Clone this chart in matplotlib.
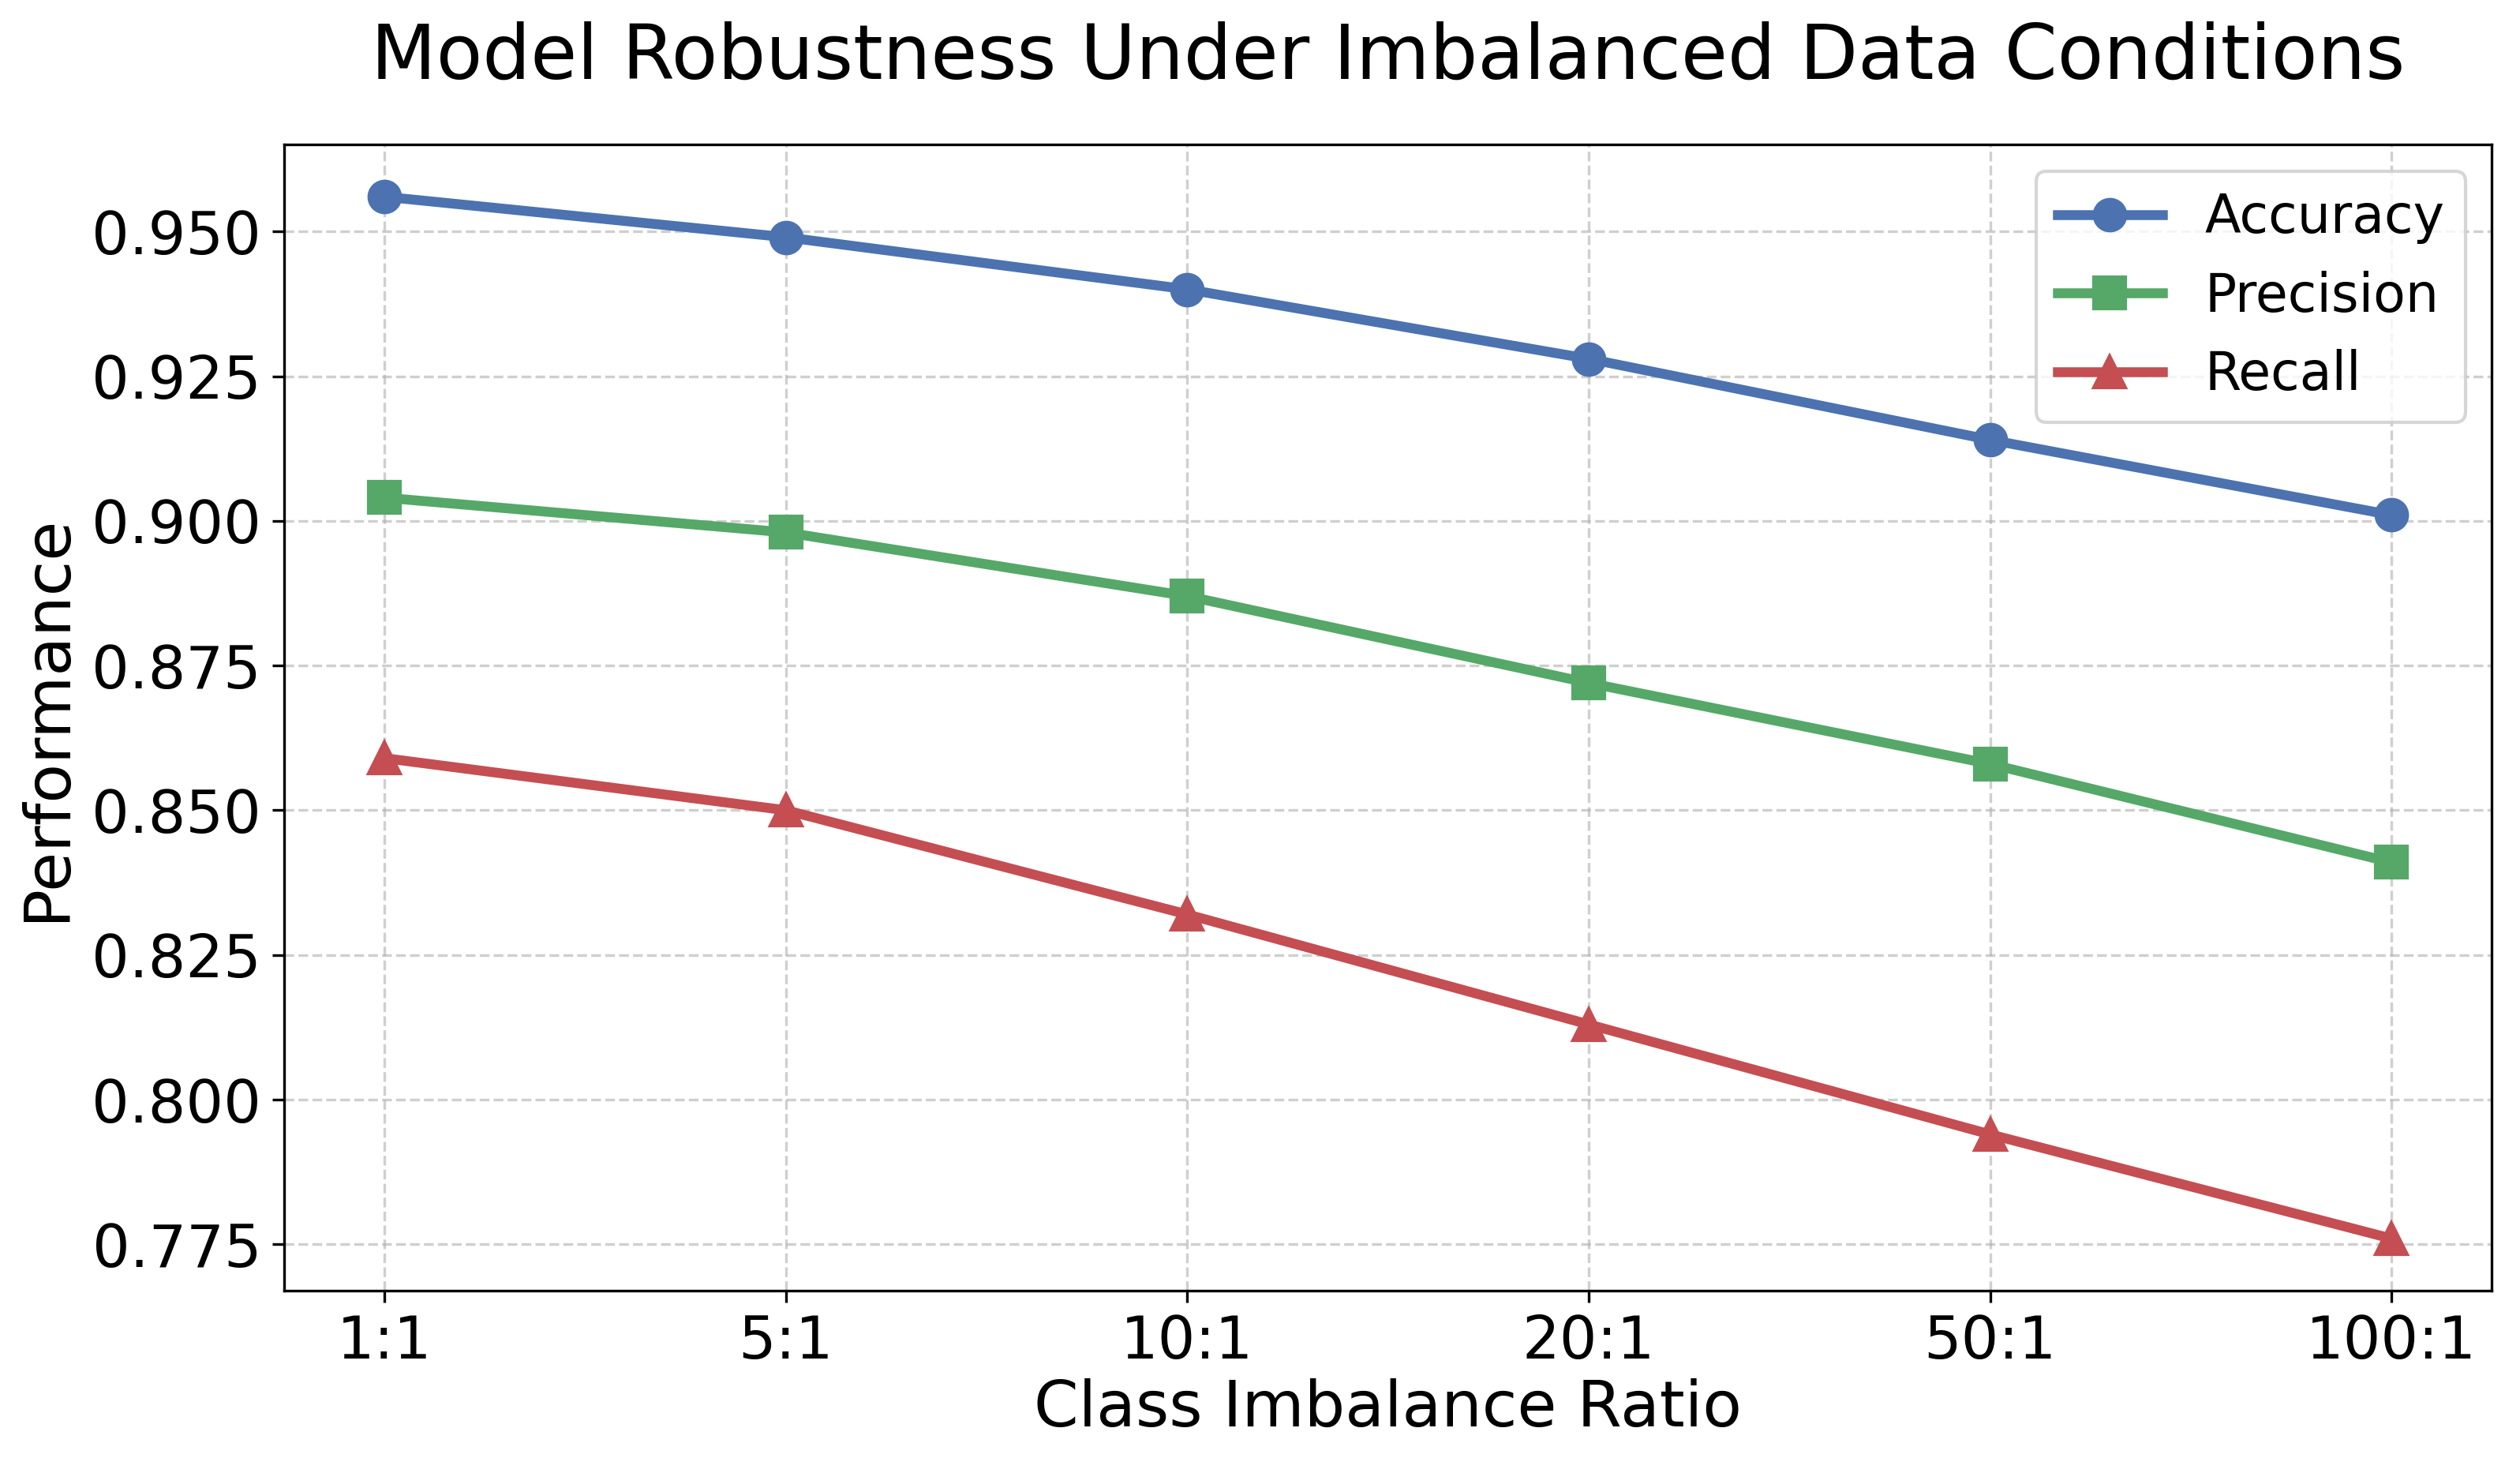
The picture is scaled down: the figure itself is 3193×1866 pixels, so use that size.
import matplotlib
matplotlib.use("Agg")
import matplotlib.pyplot as plt

# Données
ratios = ["1:1", "5:1", "10:1", "20:1", "50:1", "100:1"]
accuracy = [0.956, 0.949, 0.940, 0.928, 0.914, 0.901]
precision = [0.904, 0.898, 0.887, 0.872, 0.858, 0.841]
recall = [0.859, 0.850, 0.832, 0.813, 0.794, 0.776]

colors = ["#4C72B0", "#55A868", "#C44E52"]

fig = plt.figure(figsize=(3193 / 300, 1866 / 300), dpi=300)
ax = fig.add_axes([0.1128, 0.1238, 0.876, 0.778])

x = range(len(ratios))
ax.plot(x, accuracy, color=colors[0], marker="o", label="Accuracy",
        linewidth=3, markersize=9.5)
ax.plot(x, precision, color=colors[1], marker="s", label="Precision",
        linewidth=3, markersize=9.5)
ax.plot(x, recall, color=colors[2], marker="^", label="Recall",
        linewidth=3, markersize=9.5)

ax.set_xticks(list(x))
ax.set_xticklabels(ratios)
ax.tick_params(labelsize=18)
ax.set_xlabel("Class Imbalance Ratio", fontsize=19.5, labelpad=2)
ax.set_ylabel("Performance", fontsize=19.5, labelpad=4)
ax.set_title("Model Robustness Under Imbalanced Data Conditions", fontsize=23, pad=20)
ax.grid(True, linestyle="--", alpha=0.6)
ax.legend(fontsize=16, loc="upper right")

fig.savefig("out.png", dpi=300)
